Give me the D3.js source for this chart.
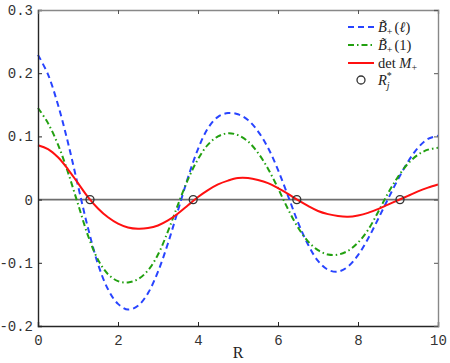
<!DOCTYPE html>
<html>
<head>
<meta charset="utf-8">
<script src="https://cdn.jsdelivr.net/npm/d3@7"></script>
<style>
  body { margin: 0; background: #fff; }
  svg { display: block; }
</style>
</head>
<body>
<svg id="chart" width="450" height="363"></svg>
<script>
// sample positions along R
const rVals = [0, 0.25, 0.5, 0.75, 1, 1.25, 1.5, 1.75, 2, 2.25, 2.5, 2.75, 3, 3.25, 3.5, 3.75, 4, 4.25, 4.5, 4.75, 5,
               5.25, 5.5, 5.75, 6, 6.25, 6.5, 6.75, 7, 7.25, 7.5, 7.75, 8, 8.25, 8.5, 8.75, 9, 9.25, 9.5, 9.75, 10];

// B~+(l), dashed blue
const bEll = [0.229, 0.198, 0.150, 0.090, 0.022, -0.045, -0.102, -0.142, -0.165, -0.174, -0.168, -0.148, -0.114, -0.069, -0.017, 0.035, 0.080, 0.113, 0.131, 0.137, 0.135,
              0.126, 0.108, 0.082, 0.047, 0.006, -0.036, -0.071, -0.097, -0.111, -0.114, -0.106, -0.088, -0.062, -0.031, 0.001, 0.032, 0.060, 0.082, 0.096, 0.101];

// B~+(1), dash-dot green
const bOne = [0.145, 0.121, 0.087, 0.043, -0.007, -0.057, -0.095, -0.118, -0.129, -0.131, -0.126, -0.112, -0.087, -0.050, -0.008, 0.032, 0.064, 0.087, 0.100, 0.105, 0.102,
              0.092, 0.074, 0.049, 0.018, -0.015, -0.044, -0.066, -0.080, -0.087, -0.087, -0.081, -0.068, -0.048, -0.020, 0.010, 0.036, 0.057, 0.071, 0.079, 0.082];

// det M+, solid red
const detM = [0.086, 0.080, 0.067, 0.048, 0.026, 0.004, -0.014, -0.028, -0.038, -0.044, -0.046, -0.045, -0.041, -0.033, -0.022, -0.009, 0.004, 0.015, 0.024, 0.030, 0.034,
              0.034, 0.031, 0.026, 0.018, 0.009, -0.001, -0.010, -0.018, -0.023, -0.026, -0.027, -0.025, -0.021, -0.015, -0.008, -0.001, 0.006, 0.013, 0.019, 0.024];

// zeros R*_j
const rStar = [1.3, 3.88, 6.47, 9.05];

const xTicks = [0, 2, 4, 6, 8, 10];
const yTicks = [-0.2, -0.1, 0, 0.1, 0.2, 0.3];

const svg = d3.select('#chart');
const pLeft = 38, pRight = 438, pTop = 10, pBottom = 326;

const x = d3.scaleLinear().domain([0, 10]).range([pLeft, pRight]);
const y = d3.scaleLinear().domain([-0.2, 0.3]).range([pBottom, pTop]);

// zero line
svg.append('line')
    .attr('x1', x(0)).attr('x2', x(10))
    .attr('y1', y(0)).attr('y2', y(0))
    .attr('stroke', '#6e6e6e').attr('stroke-width', 1.6);

const line = d3.line().curve(d3.curveCatmullRom.alpha(0.5));
const series = [
    { vals: bEll, color: '#2844ff', dash: '6,4', width: 2 },
    { vals: bOne, color: '#22a010', dash: '6,3,1.5,3', width: 2 },
    { vals: detM, color: '#ff1010', dash: null, width: 2 }
];

series.forEach(s => {
    svg.append('path')
        .attr('d', line(rVals.map((r, i) => [x(r), y(s.vals[i])])))
        .attr('fill', 'none')
        .attr('stroke', s.color)
        .attr('stroke-width', s.width)
        .attr('stroke-dasharray', s.dash);
});

svg.selectAll('circle.zero')
    .data(rStar)
    .enter().append('circle')
    .attr('class', 'zero')
    .attr('cx', d => x(d)).attr('cy', y(0)).attr('r', 4)
    .attr('fill', 'none').attr('stroke', '#333').attr('stroke-width', 1.3);

// axes box: left/bottom dark, top/right gray, ticks inward
const tickFont = "'Liberation Mono', 'DejaVu Sans Mono', monospace";

const gB = svg.append('g').attr('transform', `translate(0,${pBottom})`)
    .call(d3.axisBottom(x).tickValues(xTicks).tickSize(-4).tickPadding(9).tickFormat(d3.format('d')));
const gL = svg.append('g').attr('transform', `translate(${pLeft},0)`)
    .call(d3.axisLeft(y).tickValues(yTicks).tickSize(-4).tickPadding(5).tickFormat(d => d === 0 ? '0' : d3.format('.1f')(d).replace('\u2212', '-')));
const gT = svg.append('g').attr('transform', `translate(0,${pTop})`)
    .call(d3.axisTop(x).tickValues(xTicks).tickSize(-4).tickFormat(''));
const gR = svg.append('g').attr('transform', `translate(${pRight},0)`)
    .call(d3.axisRight(y).tickValues(yTicks).tickSize(-4).tickFormat(''));

[gB, gL].forEach(g => {
    g.select('.domain').attr('stroke', '#262626').attr('stroke-width', 1.4);
    g.selectAll('.tick line').attr('stroke', '#262626');
    g.selectAll('text').attr('font-family', tickFont).attr('font-size', 14).attr('fill', '#333');
});
[gT, gR].forEach(g => {
    g.select('.domain').attr('stroke', '#888').attr('stroke-width', 1.4);
    g.selectAll('.tick line').attr('stroke', '#555');
});
gB.selectAll('.tick').filter(d => d === 0 || d === 10).select('line').remove();
gL.selectAll('.tick').filter(d => d === -0.2 || d === 0.3).select('line').remove();

// x label
svg.append('text')
    .attr('x', x(5)).attr('y', 358)
    .attr('text-anchor', 'middle')
    .attr('font-family', "'Liberation Serif', serif").attr('font-size', 16).attr('fill', '#222')
    .text('R');

// legend
const lg = svg.append('g').attr('font-family', "'Liberation Serif', 'DejaVu Serif', serif").attr('fill', '#222');
const legendRows = [
    { y: 27, color: '#2844ff', dash: '6,4' },
    { y: 45, color: '#22a010', dash: '6,3,1.5,3' },
    { y: 63, color: '#ff1010', dash: null }
];
legendRows.forEach(r => {
    lg.append('line')
        .attr('x1', 348).attr('x2', 374).attr('y1', r.y).attr('y2', r.y)
        .attr('stroke', r.color).attr('stroke-width', 2).attr('stroke-dasharray', r.dash);
});
lg.append('circle').attr('cx', 361).attr('cy', 80).attr('r', 4)
    .attr('fill', 'none').attr('stroke', '#333').attr('stroke-width', 1.3);

function bLabel(yy, arg, argItalic) {
    const t = lg.append('text').attr('x', 378).attr('y', yy + 5).attr('font-size', 14.5);
    t.append('tspan').attr('font-style', 'italic').text('B\u0303');
    t.append('tspan').attr('font-size', 10).attr('dy', 3).text('+');
    t.append('tspan').attr('dy', -3).attr('dx', 2).text('(');
    t.append('tspan').attr('font-style', argItalic ? 'italic' : 'normal').text(arg);
    t.append('tspan').text(')');
}
bLabel(27, '\u2113', true);
bLabel(45, '1', false);

const tDet = lg.append('text').attr('x', 378).attr('y', 68).attr('font-size', 14.5);
tDet.append('tspan').text('det ');
tDet.append('tspan').attr('font-style', 'italic').text('M');
tDet.append('tspan').attr('font-size', 10).attr('dy', 3).text('+');

const tR = lg.append('text').attr('x', 378).attr('y', 85).attr('font-size', 14.5);
tR.append('tspan').attr('font-style', 'italic').text('R');
tR.append('tspan').attr('font-size', 10).attr('dy', -6).text('*');
tR.append('tspan').attr('font-size', 10).attr('font-style', 'italic').attr('dx', -5).attr('dy', 10).text('j');
</script>
</body>
</html>
